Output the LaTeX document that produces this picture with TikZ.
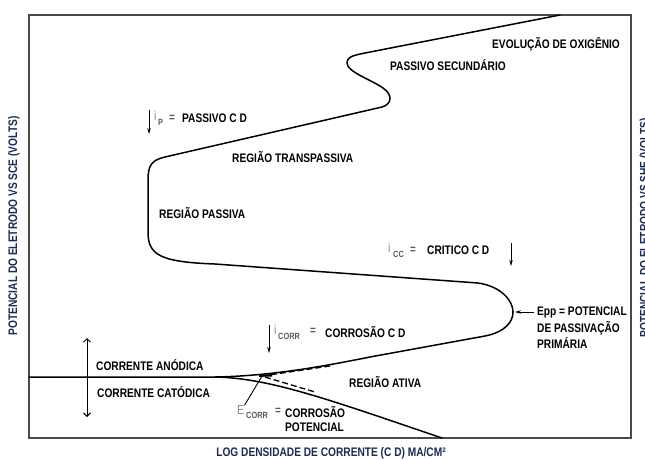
\documentclass[tikz,border=0pt]{standalone}
\usepackage{fontspec}
\setmainfont{Liberation Sans}[FakeStretch=0.82]
\usetikzlibrary{arrows.meta}
\definecolor{axisnavy}{HTML}{1C2A55}
\definecolor{symgray}{HTML}{8A8A8A}
\definecolor{subgray}{HTML}{5A5A5A}
\definecolor{framegray}{HTML}{4A4A4A}
\begin{document}
\begin{tikzpicture}[x=1pt,y=-1pt,
  lbl/.style={font=\fontsize{12.4}{13.5}\selectfont\bfseries, inner sep=0pt, text=black, anchor=west},
  axislbl/.style={font=\fontsize{12.4}{13.5}\selectfont\bfseries, inner sep=0pt, text=axisnavy},
  symi/.style={font=\fontsize{13}{13}\selectfont, inner sep=0pt, text=symgray, anchor=west},
  subs/.style={font=\fontsize{9}{9}\selectfont\bfseries, inner sep=0pt, text=subgray, anchor=west},
  eqs/.style={font=\fontsize{12}{12}\selectfont\bfseries, inner sep=0pt, text=subgray},
  curve/.style={line width=1.5pt, line cap=round, line join=round},
  ptr/.style={line width=0.9pt, -{Stealth[length=6pt,width=3.5pt]}},
  frameline/.style={line width=1.2pt, draw=framegray}]
\useasboundingbox (0,0) rectangle (645,459);
\fill[white] (0,0) rectangle (645,459);

% frame
\draw[frameline] (29,15) rectangle (631,438);

% main curve
\draw[curve] (29,377) -- (215,377)
  .. controls (270,376) and (320,367) .. (370,357)
  -- (485,336)
  .. controls (505,332) and (513,322) .. (513,312)
  .. controls (513,300) and (500,286) .. (478,283)
  -- (215,264)
  .. controls (160,262) and (148,255) .. (148,232)
  -- (148,180)
  .. controls (148,165) and (152,160) .. (165,157)
  -- (382,107)
  .. controls (392,104) and (393,95) .. (383,88)
  .. controls (372,80) and (347,72) .. (347,63)
  .. controls (347,56) and (356,55) .. (365,53)
  -- (560,15);

% cathodic branch
\draw[curve] (215,377) .. controls (270,378) and (330,400) .. (442,438);

% dashed Tafel extrapolations
\draw[line width=1.3pt, dash pattern=on 6pt off 3pt] (262,376) -- (330,366);
\draw[line width=1.3pt, dash pattern=on 6pt off 3pt] (265,377) -- (315,392);
\draw[line width=2.4pt] (259,375.6) -- (272,375.4);

% labels
\node[lbl] (evol) at (492,44) {EVOLUÇÃO DE OXIGÊNIO};
\node[lbl] (psec) at (390,65) {PASSIVO SECUNDÁRIO};
\node[lbl] (trans) at (232,157) {REGIÃO TRANSPASSIVA};
\node[lbl] (pass) at (159,213) {REGIÃO PASSIVA};
\node[lbl] (ativa) at (349,382) {REGIÃO ATIVA};
\node[lbl] (anod) at (96,365) {CORRENTE ANÓDICA};
\node[lbl] (catod) at (97,392) {CORRENTE CATÓDICA};

% i_P
\node[symi] (ipi) at (154,116) {i};
\node[subs] (ipsub) at (158,122) {P};
\node[eqs] (ipeq) at (172,118) {=};
\node[lbl] (iptxt) at (182,118) {PASSIVO C D};
\coordinate (ipa) at (149,110);
\coordinate (ipb) at (149,134);
\draw[ptr] (ipa) -- (ipb);

% i_CC
\node[symi] (icci) at (388,248) {i};
\node[subs] (iccsub) at (393,254) {CC};
\node[eqs] (icceq) at (413,250) {=};
\node[lbl] (icctxt) at (427,250) {CRITICO C D};
\coordinate (icca) at (511,243);
\coordinate (iccb) at (511,266);
\draw[ptr] (icca) -- (iccb);

% i_CORR
\node[symi] (icorri) at (274,330) {i};
\node[subs] (icorrsub) at (278,336) {CORR};
\node[eqs] (icorreq) at (313,331) {=};
\node[lbl] (icorrtxt) at (325,332) {CORROSÃO C D};
\coordinate (icorra) at (269,325);
\coordinate (icorrb) at (269,353);
\draw[ptr] (icorra) -- (icorrb);

% E_CORR
\node[symi] (ecorre) at (237,410) {E};
\node[subs] (ecorrsub) at (246,415) {CORR};
\node[eqs] (ecorreq) at (278,411) {=};
\node[lbl] (ecorr1) at (285,412) {CORROSÃO};
\node[lbl] (ecorr2) at (285,427) {POTENCIAL};
\coordinate (ecorrpt) at (262,376);
\draw[line width=0.9pt] (ecorre.north east) -- (ecorrpt);

% Epp
\node[lbl] (epp1) at (537,312) {Epp = POTENCIAL};
\node[lbl] (epp2) at (537,328) {DE PASSIVAÇÃO};
\node[lbl] (epp3) at (537,343) {PRIMÁRIA};
\coordinate (eppnose) at (515,312);
\draw[ptr] (epp1.west) ++(-3,0) -- (eppnose);

% current direction double arrow
\coordinate (dup) at (87,338);
\coordinate (ddown) at (87,417);
\draw[line width=1pt, {Straight Barb[length=3.5pt,width=7pt]}-{Straight Barb[length=3.5pt,width=7pt]}] (dup) -- (ddown);

% axis labels
\node[axislbl, rotate=90] (ylab) at (14,226) {POTENCIAL DO ELETRODO VS SCE (VOLTS)};
\node[axislbl, rotate=90] (ylab2) at (645.5,228) {POTENCIAL DO ELETRODO VS SHE (VOLTS)};
\node[axislbl] (xlab) at (331,453) {LOG DENSIDADE DE CORRENTE (C D) MA/CM²};
\end{tikzpicture}
\end{document}
